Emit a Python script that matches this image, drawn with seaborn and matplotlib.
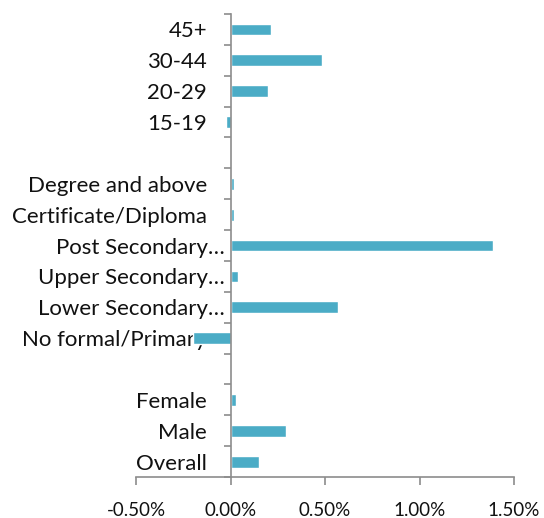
import numpy as np
import pandas as pd
import matplotlib.pyplot as plt
import seaborn as sns
from matplotlib.ticker import FixedLocator, FuncFormatter
from matplotlib.transforms import ScaledTranslation

sns.set_style("white")
plt.rcParams['font.family'] = ['Lato', 'DejaVu Sans']

# categories top to bottom, blanks are the gaps between groups
categories = ["45+", "30-44", "20-29", "15-19", " ",
              "Degree and above", "Certificate/Diploma", "Post Secondary\u2026",
              "Upper Secondary\u2026", "Lower Secondary\u2026", "No formal/Primary", "  ",
              "Female", "Male", "Overall"]
# change in percent
values = [0.213, 0.483, 0.197, -0.025, np.nan,
          0.02, 0.02, 1.386, 0.037, 0.566, -0.20, np.nan,
          0.028, 0.296, 0.151]
x_ticks = [-0.5, 0.0, 0.5, 1.0, 1.5]

df = pd.DataFrame({"group": categories, "change": values})

fig = plt.figure(figsize=(5.44, 5.18), dpi=100)
ax = fig.add_axes([0.25, 0.079, 0.695, 0.894])

sns.barplot(data=df, y="group", x="change", order=categories, orient="h",
            color="#4BACC6", saturation=1, width=0.38, ax=ax)

ax.set_xlim(-0.5, 1.5)
ax.set_ylim(len(categories) - 0.5, -0.5)
ax.set_xlabel("")
ax.set_ylabel("")

for side in ["top", "right"]:
    ax.spines[side].set_visible(False)
ax.spines["left"].set_position(("data", 0))
for side in ["left", "bottom"]:
    ax.spines[side].set_color("#8c8c8c")
    ax.spines[side].set_linewidth(1.2)

ax.xaxis.set_major_locator(FixedLocator(x_ticks))
ax.xaxis.set_major_formatter(FuncFormatter(lambda v, p: "{:.2f}%".format(v)))
ax.tick_params(axis="x", direction="out", length=6, width=1.2, color="#8c8c8c",
               labelsize=13.5, labelcolor="#111111", pad=12, bottom=True)

# y ticks on the boundaries, labels in the middle
ax.yaxis.set_minor_locator(FixedLocator(np.arange(-0.5, len(categories), 1.0)))
ax.tick_params(axis="y", which="minor", direction="out", length=5, width=1.2,
               color="#8c8c8c", left=True)
ax.tick_params(axis="y", which="major", length=0, labelsize=16,
               labelcolor="#111111", pad=17)

for lbl in ax.get_yticklabels():
    if lbl.get_text().endswith("\u2026"):
        lbl.set_transform(lbl.get_transform() + ScaledTranslation(13 / 72, 0, fig.dpi_scale_trans))

plt.savefig("out.png", dpi=100)
